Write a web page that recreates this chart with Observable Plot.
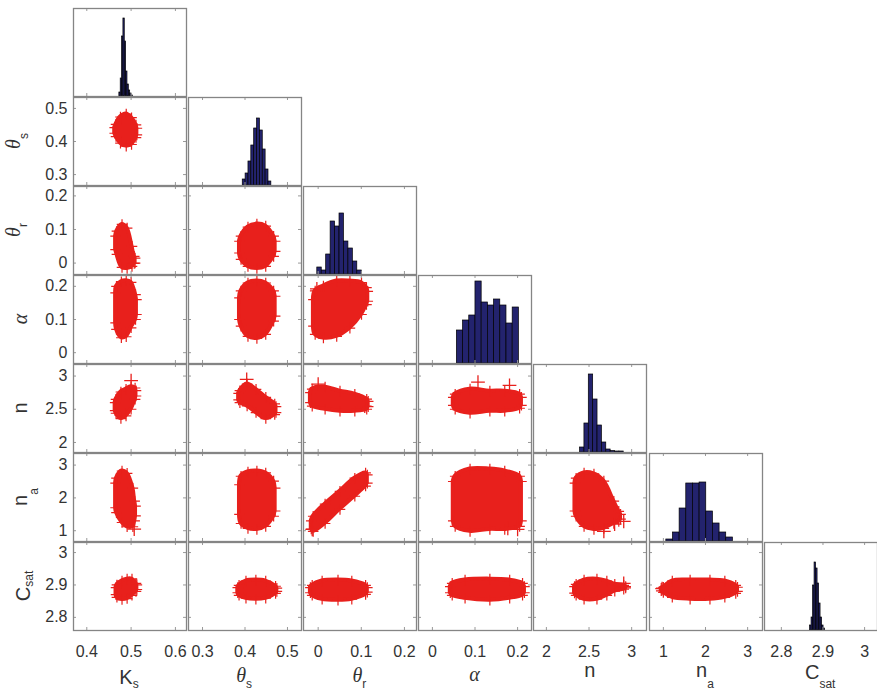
<!DOCTYPE html>
<html><head><meta charset="utf-8">
<script src="https://cdn.jsdelivr.net/npm/d3@7"></script>
<script src="https://cdn.jsdelivr.net/npm/@observablehq/plot@0.6"></script>
<style>
body{margin:0;background:#fff;}
#chart{position:relative;width:877px;height:691px;overflow:hidden;font-family:"Liberation Sans",Arial,sans-serif;color:#333;}
.lab{position:absolute;font-size:20px;line-height:20px;white-space:nowrap;}
.greek{font-family:"Liberation Serif","DejaVu Serif",serif;font-style:italic;}
.sub{font-size:12px;position:relative;}
</style></head>
<body><div id="chart"></div>
<script>
// ---------- data ----------
const variables = ["Ks","θs","θr","α","n","na","Csat"];
const labelMain = ["K","θ","θ","α","n","n","C"];
const labelSub  = ["s","s","r","","","a","sat"];
const limits = [[0.37,0.625],[0.267,0.533],[-0.034,0.228],[-0.0326,0.2326],[1.849,3.174],[0.671,3.353],[2.7595,3.031]];
const tickValues = [[0.4,0.5,0.6],[0.3,0.4,0.5],[0,0.1,0.2],[0,0.1,0.2],[2,2.5,3],[1,2,3],[2.8,2.9,3]];
const tickLabels = [["0.4","0.5","0.6"],["0.3","0.4","0.5"],["0","0.1","0.2"],["0","0.1","0.2"],["2","2.5","3"],["1","2","3"],["2.8","2.9","3"]];

// histogram (diagonal) ranges and bar heights (10 equal bins each)
const histRanges = [[0.4735,0.504],[0.3947,0.462],[-0.002,0.101],[0.0574,0.203],[2.395,2.907],[1.07,2.65],[2.869,2.905]];
const histKs   = [4,18,60,78,55,25,12,6,3,1];
const histThS  = [6,12,24,40,57,67,55,36,16,4];
const histThR  = [7,4,20,53,48,61,33,26,13,4];
const histAlpha= [33,43,48,82,61,58,64,58,40,56];
const histN    = [5,29,78,53,27,10,3,1.5,1,1];
const histNa   = [2,9,33,58,58,59,30,18,9,4];
const histCsat = [5,13,45,68,62,47,27,13,5,2];

// scatter clouds: [x, y low edge, y high edge] read along each cloud
const thS_Ks   = [[0.463,0.425,0.442],[0.466,0.415,0.452],[0.476,0.395,0.474],[0.489,0.386,0.483],[0.501,0.391,0.472],[0.511,0.412,0.450],[0.513,0.420,0.440]];
const thR_Ks   = [[0.465,0.04,0.08],[0.468,0.026,0.095],[0.4795,-0.013,0.115],[0.491,-0.016,0.104],[0.502,-0.010,0.050],[0.507,-0.001,0.020],[0.509,0.0,0.015]];
const alpha_Ks = [[0.465,0.09,0.18],[0.467,0.07,0.20],[0.478,0.045,0.214],[0.489,0.048,0.217],[0.500,0.075,0.212],[0.510,0.10,0.175],[0.512,0.115,0.16]];
const n_Ks     = [[0.464,2.48,2.60],[0.466,2.44,2.65],[0.477,2.36,2.76],[0.4886,2.40,2.80],[0.50,2.50,2.84],[0.509,2.65,2.82],[0.511,2.70,2.78]];
const na_Ks    = [[0.465,1.7,2.45],[0.467,1.55,2.60],[0.4795,1.25,2.82],[0.491,1.12,2.75],[0.504,1.12,2.30],[0.508,1.30,1.90],[0.510,1.45,1.75]];
const csat_Ks  = [[0.466,2.870,2.892],[0.468,2.862,2.900],[0.4795,2.855,2.912],[0.491,2.858,2.918],[0.502,2.868,2.918],[0.511,2.880,2.905],[0.513,2.886,2.900]];

const thR_thS  = [[0.387,0.03,0.065],[0.3907,0.011,0.080],[0.407,-0.010,0.107],[0.428,-0.016,0.116],[0.4488,-0.010,0.110],[0.4674,0.020,0.080],[0.471,0.035,0.065]];
const alpha_thS= [[0.387,0.10,0.165],[0.3907,0.080,0.186],[0.407,0.049,0.210],[0.428,0.043,0.216],[0.4488,0.055,0.210],[0.4674,0.095,0.186],[0.471,0.11,0.17]];
const n_thS    = [[0.385,2.64,2.74],[0.388,2.60,2.78],[0.405,2.55,2.88],[0.426,2.45,2.80],[0.449,2.36,2.68],[0.470,2.42,2.58],[0.473,2.45,2.54]];
const na_thS   = [[0.387,1.5,2.4],[0.3907,1.22,2.66],[0.407,1.07,2.79],[0.428,1.04,2.82],[0.4488,1.13,2.76],[0.4674,1.44,2.51],[0.471,1.6,2.3]];
const csat_thS = [[0.383,2.876,2.892],[0.386,2.868,2.899],[0.4023,2.859,2.912],[0.4256,2.856,2.915],[0.4488,2.859,2.912],[0.472,2.874,2.896],[0.475,2.880,2.890]];

const alpha_thR= [[-0.011,0.08,0.16],[-0.0069,0.055,0.186],[0.0122,0.044,0.201],[0.043,0.049,0.216],[0.0736,0.074,0.216],[0.1005,0.115,0.211],[0.112,0.145,0.196],[0.115,0.155,0.185]];
const n_thR    = [[-0.018,2.60,2.75],[-0.0138,2.546,2.803],[0.0161,2.50,2.833],[0.0506,2.47,2.773],[0.085,2.47,2.727],[0.1126,2.50,2.652],[0.116,2.54,2.62]];
const na_thR   = [[-0.016,1.05,1.3],[-0.0115,0.98,1.44],[0.0161,1.22,1.81],[0.0506,1.65,2.20],[0.085,2.05,2.60],[0.110,2.36,2.76],[0.114,2.45,2.70]];
const csat_thR = [[-0.018,2.876,2.892],[-0.0138,2.868,2.899],[0.0092,2.856,2.912],[0.046,2.853,2.915],[0.078,2.856,2.912],[0.110,2.871,2.899],[0.114,2.878,2.892]];

const n_alpha  = [[0.049,2.56,2.68],[0.0535,2.50,2.727],[0.0884,2.44,2.803],[0.1349,2.47,2.773],[0.1698,2.47,2.773],[0.2047,2.515,2.727],[0.209,2.56,2.68]];
const na_alpha = [[0.049,1.3,2.5],[0.0535,1.13,2.66],[0.0884,0.98,2.88],[0.1349,1.04,2.88],[0.1698,1.04,2.82],[0.2047,1.13,2.66],[0.209,1.3,2.5]];
const csat_alpha=[[0.042,2.876,2.895],[0.0465,2.868,2.905],[0.0767,2.859,2.915],[0.1349,2.853,2.918],[0.1814,2.859,2.915],[0.2116,2.868,2.905],[0.216,2.876,2.895]];

const na_n     = [[2.335,1.6,2.45],[2.349,1.44,2.60],[2.442,1.13,2.76],[2.558,1.04,2.73],[2.674,1.07,2.51],[2.791,1.22,1.90],[2.849,1.28,1.59],[2.87,1.35,1.5]];
const csat_n   = [[2.33,2.875,2.895],[2.349,2.868,2.902],[2.442,2.856,2.915],[2.593,2.856,2.918],[2.709,2.868,2.912],[2.802,2.881,2.902],[2.907,2.887,2.899],[2.93,2.891,2.895]];

const csat_na  = [[0.95,2.882,2.890],[1.0,2.877,2.893],[1.212,2.862,2.912],[1.635,2.856,2.915],[2.106,2.856,2.915],[2.459,2.862,2.912],[2.718,2.874,2.899],[2.76,2.880,2.893]];

// isolated "+" samples outside the clouds
const outliers = [
  {row:"n", col:"Ks", x:0.50, y:2.93},
  {row:"na", col:"Ks", x:0.507, y:1.05},
  {row:"n", col:"θs", x:0.404, y:2.95},
  {row:"α", col:"θr", x:-0.003, y:0.192},
  {row:"n", col:"θr", x:0.0, y:2.88},
  {row:"n", col:"θr", x:0.108, y:2.546},
  {row:"na", col:"θr", x:-0.0138, y:1.04},
  {row:"n", col:"α", x:0.107, y:2.91},
  {row:"n", col:"α", x:0.181, y:2.86},
  {row:"na", col:"α", x:0.177, y:1.07},
  {row:"na", col:"α", x:0.200, y:1.04},
  {row:"na", col:"n", x:2.907, y:1.284},
  {row:"na", col:"n", x:2.674, y:0.978},
  {row:"na", col:"n", x:2.80, y:1.20},
  {row:"Csat", col:"n", x:2.907, y:2.905},
  {row:"Csat", col:"na", x:0.97, y:2.889}
];

// ---------- assembly ----------
const histCounts = [histKs, histThS, histThR, histAlpha, histN, histNa, histCsat];
const histBins = histCounts.map((counts, k) => {
  const [lo, hi] = histRanges[k]; const w = (hi - lo) / counts.length;
  return counts.map((c, b) => ({x1: lo + b * w, x2: lo + (b + 1) * w, count: c}));
});
const cloudTable = [
  [1,0,thS_Ks],[2,0,thR_Ks],[3,0,alpha_Ks],[4,0,n_Ks],[5,0,na_Ks],[6,0,csat_Ks],
  [2,1,thR_thS],[3,1,alpha_thS],[4,1,n_thS],[5,1,na_thS],[6,1,csat_thS],
  [3,2,alpha_thR],[4,2,n_thR],[5,2,na_thR],[6,2,csat_thR],
  [4,3,n_alpha],[5,3,na_alpha],[6,3,csat_alpha],
  [5,4,na_n],[6,4,csat_n],
  [6,5,csat_na]
];
const cloudMap = new Map(cloudTable.map(([i, j, c]) => [i + "," + j, c]));

const red = "#e8201c", navy = "#23236e", frameColor = "#858585", tickColor = "#9a9a9a";
const W = 113, H = 88;
const colLeft = j => 72.5 + j * 115.2;
const rowTop = i => 8 + i * 89;
const fmt = k => d => tickLabels[k][tickValues[k].indexOf(d)];

const chart = document.getElementById("chart");
for (let i = 0; i < 7; i++) for (let j = 0; j <= i; j++) {
  const ml = (j === 0 && i > 0) ? 50 : 0;
  const mb = i === 6 ? 40 : 0;
  const diag = i === j;
  const marks = [];
  if (diag) {
    marks.push(Plot.rectY(histBins[j], {x1: "x1", x2: "x2", y: "count", fill: navy, stroke: "#000", strokeWidth: 0.7}));
  } else {
    const cloud = cloudMap.get(i + "," + j);
    marks.push(Plot.areaY(cloud, {x: d => d[0], y1: d => d[1], y2: d => d[2], curve: "catmull-rom", fill: red, stroke: red, strokeWidth: 4, strokeLinejoin: "round"}));
    marks.push(Plot.dot(cloud, {x: d => d[0], y: d => d[1], symbol: "plus", r: 3.5, stroke: red, strokeWidth: 1.2}));
    marks.push(Plot.dot(cloud, {x: d => d[0], y: d => d[2], symbol: "plus", r: 3.5, stroke: red, strokeWidth: 1.2}));
    const outs = outliers.filter(o => o.row === variables[i] && o.col === variables[j]);
    marks.push(Plot.dot(outs, {x: "x", y: "y", symbol: "plus", r: 4.5, stroke: red, strokeWidth: 1.3}));
    marks.push(Plot.ruleY(tickValues[i], {insetRight: W - 3, stroke: tickColor}));
    marks.push(Plot.ruleY(tickValues[i], {insetLeft: W - 3, stroke: tickColor}));
  }
  marks.push(Plot.ruleX(tickValues[j], {insetTop: H - 3, stroke: tickColor}));
  marks.push(Plot.ruleX(tickValues[j], {insetBottom: H - 3, stroke: tickColor}));
  if (i === 6) marks.push(Plot.axisX(tickValues[j], {anchor: "bottom", tickSize: 0, tickPadding: 15, tickFormat: fmt(j), label: null}));
  if (ml) marks.push(Plot.axisY(tickValues[i], {anchor: "left", tickSize: 0, tickPadding: 6, tickFormat: fmt(i), label: null}));
  marks.push(Plot.frame({stroke: frameColor, strokeWidth: 1.3}));
  const svg = Plot.plot({
    width: W + ml, height: H + mb,
    marginLeft: ml, marginRight: 0, marginTop: 0, marginBottom: mb,
    x: {domain: limits[j], axis: i === 6 ? undefined : null, label: null},
    y: {domain: diag ? [0, H] : limits[i], axis: ml ? undefined : null, label: null},
    style: {fontFamily: "Liberation Sans, Arial, sans-serif", fontSize: "16px", color: "#333", background: "transparent", overflow: "visible"},
    marks
  });
  svg.style.position = "absolute";
  svg.style.left = (colLeft(j) - ml) + "px";
  svg.style.top = rowTop(i) + "px";
  chart.append(svg);
}

// axis titles (HTML text with subscripts)
function labelHTML(k, drop) {
  const main = labelMain[k];
  const greek = /[θα]/.test(main);
  let s = `<span class="${greek ? "greek" : ""}">${main}</span>`;
  if (labelSub[k]) s += `<span class="sub" style="top:${drop}px">${labelSub[k]}</span>`;
  return s;
}
const B = 17; // baseline offset inside a 20px line box
const xBase = [684, 682, 682, 681, 677, 677, 679];
const xSubBase = 688;
for (let j = 0; j < 7; j++) {
  const d = document.createElement("div");
  d.className = "lab";
  d.innerHTML = labelHTML(j, xSubBase - xBase[j]);
  d.style.left = (colLeft(j) + W / 2) + "px";
  d.style.top = (xBase[j] - B) + "px";
  d.style.transform = "translateX(-50%)";
  chart.append(d);
}
const yBase = [0, 20, 20, 27, 27, 27, 30];
const ySubBase = [0, 28, 27, 0, 0, 38, 33];
for (let i = 1; i < 7; i++) {
  const d = document.createElement("div");
  d.className = "lab";
  d.innerHTML = labelHTML(i, ySubBase[i] - yBase[i]);
  d.style.left = (yBase[i] - B) + "px";
  d.style.top = (rowTop(i) + H / 2) + "px";
  d.style.transformOrigin = "0 0";
  d.style.transform = "rotate(-90deg) translateX(-50%)";
  chart.append(d);
}
</script></body></html>
